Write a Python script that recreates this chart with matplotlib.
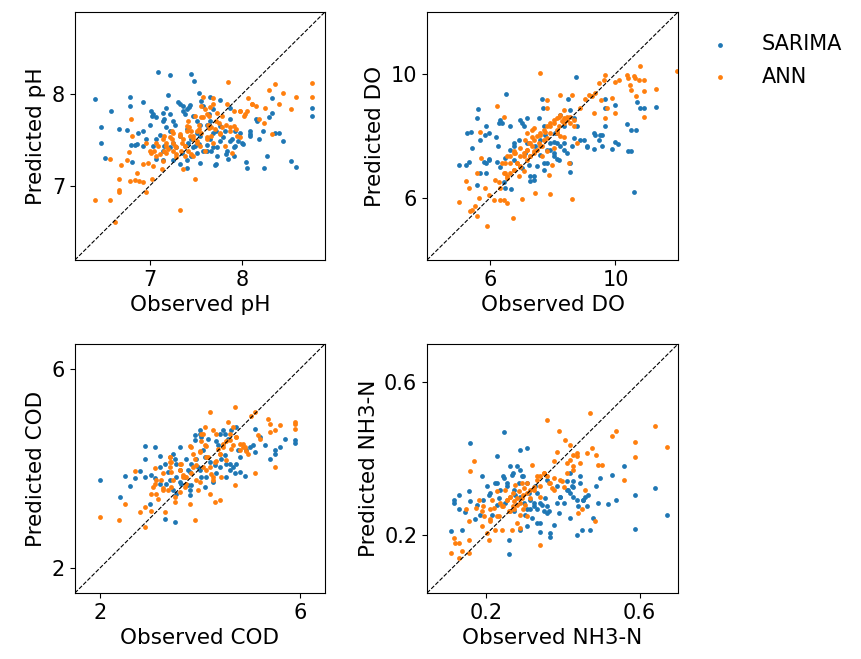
import matplotlib
matplotlib.use('Agg')
from matplotlib import pyplot as plt

# pH
ph_sarima_obs = [6.41, 7.09, 7.22, 7.45, 7.48, 6.47, 6.47, 6.52, 6.58, 6.67, 6.79, 6.79, 6.93, 6.76, 6.80,
                 6.84, 6.87, 6.93, 6.81, 7.02, 7.03, 7.07, 7.15, 7.18, 7.20, 7.16, 7.25, 7.31, 7.36, 7.40,
                 7.38, 7.44, 7.47, 7.53, 7.56, 7.65, 7.76, 7.87, 7.07, 7.11, 7.16, 7.22, 7.25, 7.33, 7.29,
                 7.35, 7.40, 7.33, 7.40, 7.45, 7.49, 7.55, 7.55, 7.58, 7.62, 7.65, 7.69, 7.73, 7.73, 7.71,
                 7.76, 7.82, 7.84, 7.85, 7.89, 7.91, 7.93, 7.96, 8.00, 8.04, 8.06, 8.09, 8.09, 8.15, 8.18,
                 8.24, 8.27, 8.29, 8.33, 8.33, 8.36, 8.40, 8.45, 8.53, 8.59, 8.76, 8.76, 7.58, 7.64, 7.69,
                 7.62, 7.51, 7.45, 7.55, 7.27, 7.22, 7.15, 7.07, 6.96, 7.04, 7.93, 7.98, 7.76, 7.87, 7.42,
                 7.51, 7.67,
                 7.04, 7.00, 7.15, 7.18, 6.93, 6.86, 7.33, 7.36, 7.43, 7.51, 7.65, 7.72, 7.80, 7.87, 7.91,
                 7.83, 7.69, 7.62, 7.54, 7.47, 7.40, 7.25, 7.15, 7.72, 8.01, 8.09, 8.16, 8.23, 7.22]
ph_sarima_pred = [7.95, 8.24, 8.21, 8.22, 8.15, 7.64, 7.47, 7.30, 7.82, 7.62, 7.97, 7.87, 7.92, 7.61, 7.45,
                  7.45, 7.58, 7.44, 7.26, 7.82, 7.76, 7.75, 7.80, 7.85, 7.99, 7.73, 7.71, 7.92, 7.87, 7.84,
                  7.78, 7.88, 7.76, 8.02, 7.93, 7.97, 7.94, 7.85, 7.51, 7.56, 7.44, 7.60, 7.47, 7.55, 7.42,
                  7.36, 7.20, 7.24, 7.62, 7.51, 7.44, 7.55, 7.67, 7.38, 7.45, 7.51, 7.58, 7.42, 7.33, 7.23,
                  7.49, 7.60, 7.38, 7.29, 7.51, 7.33, 7.44, 7.49, 7.47, 7.26, 7.20, 7.55, 7.60, 7.73, 7.51,
                  7.20, 7.33, 7.75, 7.80, 7.96, 7.58, 7.58, 7.49, 7.27, 7.21, 7.85, 7.76, 7.87, 7.78, 7.84,
                  7.67, 7.36, 7.33, 7.25, 7.67, 7.42, 7.38, 7.29, 7.51, 7.44, 7.60, 7.58, 7.65, 7.73, 7.47,
                  7.58, 7.38,
                  7.78, 7.67, 7.71, 7.64, 7.60, 7.46, 7.89, 7.82, 7.86, 7.71, 7.71, 7.60, 7.53, 7.49, 7.42,
                  7.35, 7.42, 7.38, 7.46, 7.42, 7.28, 7.28, 7.28, 7.24, 7.46, 7.57, 7.71, 7.60, 7.78]
ph_ann_obs = [6.41, 6.57, 6.62, 6.57, 6.67, 6.67, 6.67, 6.69, 6.75, 6.78, 6.80, 6.81, 6.79, 6.84, 6.86,
              6.88, 6.93, 6.93, 6.96, 6.96, 6.98, 7.03, 7.02, 7.05, 7.09, 7.13, 7.15, 7.16, 7.18, 7.20,
              7.24, 7.25, 7.27, 7.29, 7.35, 7.33, 7.36, 7.38, 7.42, 7.44, 7.47, 7.49, 7.51, 7.53, 7.56,
              7.56, 7.58, 7.60, 7.64, 7.67, 7.71, 7.75, 7.78, 7.84, 7.85, 7.87, 7.89, 7.91, 7.98, 8.02,
              8.05, 8.07, 8.11, 8.15, 8.18, 8.24, 8.25, 8.29, 8.33, 8.36, 8.40, 8.45, 8.53, 8.59, 8.76,
              8.76, 7.33, 7.40, 7.45, 7.55, 7.62, 7.69, 7.76, 7.82, 7.91, 7.95, 7.18, 7.25, 7.07, 7.04,
              7.64, 7.73, 7.60, 7.38, 7.47,
              7.22, 7.25, 7.18, 7.29, 7.33, 7.36, 7.40, 7.43, 7.47, 7.51, 7.54, 7.58, 7.62, 7.65, 7.69,
              7.56, 7.62, 7.67, 7.72, 7.78, 7.83, 7.87, 7.94, 7.98, 7.16, 7.11, 7.07, 7.00, 7.29, 7.34,
              7.24, 7.42, 7.49, 7.15, 7.38, 7.45, 7.51, 7.63, 7.76, 7.98, 8.03, 8.11, 7.69]
ph_ann_pred = [6.85, 6.85, 6.60, 7.29, 7.07, 6.96, 6.93, 7.23, 7.28, 7.37, 7.73, 7.54, 7.05, 7.06, 7.14,
               7.05, 7.04, 7.24, 7.47, 6.93, 7.25, 7.07, 7.36, 7.38, 7.44, 7.18, 7.27, 7.55, 7.47, 7.40,
               7.51, 7.38, 7.44, 7.31, 7.47, 6.74, 7.18, 7.33, 7.38, 7.55, 7.51, 7.07, 7.47, 7.62, 7.75,
               7.87, 7.97, 7.84, 7.63, 7.55, 7.62, 7.69, 7.64, 7.89, 8.13, 7.60, 7.36, 7.82, 7.82, 7.76,
               7.82, 7.96, 7.89, 7.87, 7.73, 7.69, 7.85, 8.05, 7.57, 8.11, 7.89, 8.02, 7.84, 7.97, 8.12,
               7.97, 7.55, 7.65, 7.60, 7.44, 7.51, 7.47, 7.58, 7.44, 7.65, 7.55, 7.36, 7.58, 7.33, 7.22,
               7.76, 7.80, 7.38, 7.44, 7.33,
               7.53, 7.47, 7.44, 7.42, 7.57, 7.51, 7.60, 7.64, 7.55, 7.49, 7.67, 7.75, 7.78, 7.86, 7.89,
               7.58, 7.53, 7.64, 7.71, 7.76, 7.67, 7.64, 7.62, 7.53, 7.38, 7.35, 7.47, 7.38, 7.35, 7.38,
               7.60, 7.71, 7.76, 7.51, 7.44, 7.35, 7.60, 7.67, 7.57, 7.82, 7.78, 7.89, 7.96]

# DO
do_sarima_obs = [5.01, 5.23, 5.33, 5.27, 5.38, 5.59, 5.61, 5.68, 5.41, 5.57, 5.66, 5.82, 5.81, 5.87, 5.95,
                 6.18, 6.25, 6.32, 6.37, 6.51, 6.43, 6.46, 6.62, 6.66, 6.48, 6.64, 6.75, 6.91, 7.01, 7.17,
                 7.17, 7.12, 7.23, 7.28, 7.39, 7.55, 7.65, 7.69, 7.73, 7.60, 7.71, 7.81, 7.92, 8.03, 8.19,
                 8.24, 8.35, 8.47, 8.56, 8.56, 8.61, 8.67, 8.75, 8.77, 8.99, 9.09, 9.31, 9.36, 9.47, 9.57,
                 9.57, 9.68, 9.68, 9.68, 9.89, 10.0, 10.0, 10.07, 10.37, 10.39, 10.50, 10.50, 10.59, 10.67,
                 10.69, 10.80, 10.91, 11.28, 8.03, 8.13, 8.24, 7.44, 7.60, 7.76, 6.75, 7.01, 6.21, 6.32,
                 8.08, 8.67, 8.35,
                 5.85, 5.96, 6.28, 6.96, 7.07, 6.75, 5.96, 5.85, 7.92, 8.03, 8.13, 8.35, 8.45, 8.56, 7.81,
                 7.71, 7.49, 7.28, 7.39, 9.09, 9.31, 9.52, 8.88, 8.13]
do_sarima_pred = [7.06, 7.06, 7.16, 8.08, 8.11, 8.57, 8.86, 7.87, 7.60, 6.41, 6.79, 8.03, 7.16, 6.79, 7.21,
                  7.95, 7.65, 8.51, 8.40, 9.35, 6.49, 6.30, 8.32, 6.27, 7.27, 7.54, 7.22, 7.87, 8.40, 8.57,
                  7.76, 7.43, 7.06, 6.52, 6.68, 8.57, 9.18, 8.89, 8.32, 7.38, 7.11, 7.54, 7.76, 7.43, 7.22,
                  8.67, 8.30, 9.18, 8.84, 6.84, 7.65, 7.92, 9.91, 8.30, 7.87, 7.62, 7.57, 8.03, 7.87, 7.65,
                  8.03, 8.30, 9.18, 8.89, 7.57, 9.00, 7.78, 7.74, 8.38, 7.52, 7.49, 8.19, 6.19, 8.17,
                  9.08, 8.89, 8.89, 8.92, 7.81, 8.08, 7.65, 7.65, 7.87, 8.03, 7.65, 6.95, 7.16, 7.00,
                  8.08, 8.57, 7.54,
                  8.30, 8.09, 8.41, 8.52, 8.30, 7.76, 7.23, 7.12, 7.55, 7.33, 7.23, 7.76, 7.44, 7.12, 7.12,
                  6.90, 7.01, 6.69, 6.58, 7.66, 8.09, 8.03, 7.87, 7.76]
do_ann_obs = [5.01, 5.23, 5.31, 5.36, 5.41, 5.50, 5.57, 5.59, 5.63, 5.66, 5.70, 5.84, 5.89, 5.95, 6.13,
              6.21, 6.27, 6.30, 6.43, 6.53, 6.43, 6.46, 6.53, 6.64, 6.73, 6.75, 6.80, 6.91, 6.96, 7.01,
              7.07, 7.17, 7.23, 7.33, 7.39, 7.44, 7.49, 7.60, 7.65, 7.71, 7.81, 7.81, 7.87, 7.90, 7.97,
              8.03, 8.13, 8.19, 8.24, 8.29, 8.35, 8.45, 8.51, 8.61, 8.61, 8.67, 8.77, 8.88, 9.04, 9.15,
              9.25, 9.31, 9.36, 9.47, 9.54, 9.62, 9.68, 9.73, 9.68, 9.89, 10.0, 10.0, 10.11, 10.37, 10.39,
              10.48, 10.50, 10.59, 10.64, 10.67, 10.75, 10.80, 10.91, 10.91, 10.91, 11.28, 11.97, 7.17,
              7.28, 7.39, 7.55, 7.60, 7.76, 7.92, 8.03, 8.19, 8.35, 8.56, 6.85, 6.96, 6.64, 6.53, 6.32,
              6.16, 6.37, 6.75, 7.12, 7.33, 7.65, 7.81,
              6.53, 6.75, 6.85, 6.96, 7.07, 7.17, 7.28, 7.39, 7.49, 7.60, 7.71, 7.81, 7.92, 8.03, 8.13,
              8.24, 8.35, 8.45, 8.56, 6.64, 6.75, 7.28, 7.39, 7.60, 6.96, 7.07, 6.43, 6.48, 7.81, 7.92,
              8.13, 7.17, 7.33, 8.24, 8.35, 8.67]
do_ann_pred = [5.87, 6.52, 6.30, 5.55, 5.60, 5.73, 5.41, 6.79, 5.98, 8.13, 7.27, 6.30, 5.08, 6.09, 5.92,
               8.95, 6.49, 5.92, 5.92, 5.82, 8.62, 6.79, 7.33, 7.11, 5.33, 6.89, 7.43, 6.68, 7.60, 5.95,
               7.33, 7.54, 7.76, 7.97, 8.24, 6.14, 7.54, 10.04, 7.65, 7.87, 9.16, 8.89, 6.73, 6.11, 7.06,
               7.60, 8.08, 8.62, 9.32, 8.46, 7.97, 8.62, 7.11, 5.95, 9.32, 8.51, 7.76, 8.89, 9.18, 9.32,
               9.27, 8.73, 9.37, 9.70, 9.16, 9.81, 9.97, 8.89, 8.57, 9.21, 8.73, 9.75, 9.81, 9.97, 9.86,
               9.64, 9.48, 9.94, 9.86, 9.27, 9.81, 10.24, 9.81, 9.43, 8.62, 9.50, 10.10, 7.22,
               7.33, 7.49, 7.76, 8.03, 8.13, 8.30, 8.40, 8.30, 8.57, 8.40, 7.11, 7.00, 6.79, 6.63, 6.30,
               6.57, 7.11, 7.49, 7.87, 7.65, 7.33, 7.49,
               6.69, 6.90, 7.12, 7.33, 7.44, 7.55, 7.76, 7.87, 7.98, 8.09, 8.19, 8.30, 8.41, 8.52, 8.57,
               8.68, 8.41, 8.52, 8.62, 7.33, 7.44, 7.33, 7.44, 7.66, 7.01, 6.85, 6.80, 7.12, 7.93, 8.09,
               8.19, 8.09, 8.19, 7.98, 8.84, 8.30]

# COD
cod_sarima_obs = [2.00, 2.40, 2.50, 2.60, 2.70, 2.80, 2.90, 2.90, 2.90, 3.00, 3.03, 3.10, 3.10, 3.20, 3.20,
                  3.30, 3.30, 3.37, 3.40, 3.47, 3.50, 3.60, 3.60, 3.63, 3.70, 3.77, 3.80, 3.83, 3.90, 3.90,
                  3.93, 3.97, 4.00, 4.03, 4.07, 4.10, 4.17, 4.20, 4.27, 4.30, 4.37, 4.40, 4.47, 4.50, 4.53,
                  4.57, 4.60, 4.63, 4.70, 4.73, 4.77, 4.80, 4.90, 4.93, 5.00, 5.10, 5.10, 5.20, 5.30, 5.40,
                  5.50, 5.50, 5.60, 5.70, 5.90, 5.90, 3.73, 4.00, 4.13, 4.33, 4.43, 3.83, 3.53, 3.60, 5.07,
                  3.47, 3.50, 3.53, 3.80, 4.00, 4.03, 4.10, 4.33, 4.40, 4.50, 4.53, 4.60, 4.67, 4.73, 4.80,
                  3.77, 3.80, 3.53, 3.33, 3.20]
cod_sarima_pred = [3.77, 3.43, 3.85, 3.65, 3.81, 3.94, 4.45, 4.20, 3.83, 3.29, 3.86, 4.43, 3.80, 4.25, 3.69,
                   2.99, 4.10, 3.93, 3.76, 3.56, 2.93, 4.43, 3.96, 3.69, 3.83, 3.96, 3.46, 3.66, 4.67, 4.57,
                   4.20, 4.03, 4.77, 3.83, 4.37, 3.63, 4.60, 4.13, 3.73, 4.06, 4.47, 4.03, 4.77, 4.27, 3.83,
                   4.60, 4.10, 4.77, 3.90, 4.84, 4.37, 3.93, 3.85, 4.37, 4.43, 4.80, 4.33, 4.63, 4.47, 4.20,
                   4.30, 4.37, 4.43, 4.60, 4.57, 4.52, 4.20, 3.96, 3.83, 3.90, 4.20, 4.10, 4.10, 3.73, 4.47,
                   4.30, 4.20, 3.82, 3.93, 4.70, 4.63, 4.23, 4.56, 4.70, 4.70, 4.09, 3.96, 4.03, 4.09, 4.23,
                   3.66, 3.56, 3.49, 3.69, 4.03]
cod_ann_obs = [2.00, 2.39, 2.50, 2.70, 2.80, 2.90, 2.91, 3.03, 3.10, 3.10, 3.13, 3.17, 3.27, 3.30, 3.37,
               3.40, 3.43, 3.47, 3.50, 3.50, 3.60, 3.63, 3.67, 3.70, 3.80, 3.80, 3.83, 3.90, 3.93, 3.97,
               4.00, 4.03, 4.07, 4.10, 4.13, 4.20, 4.20, 4.27, 4.30, 4.30, 4.33, 4.37, 4.40, 4.43, 4.47,
               4.57, 4.60, 4.63, 4.70, 4.70, 4.73, 4.80, 4.87, 4.90, 4.97, 5.03, 5.10, 5.10, 5.17, 5.20,
               5.37, 5.40, 5.40, 5.50, 5.50, 5.60, 5.90, 5.90, 5.90, 3.73, 3.87, 4.00, 4.13, 4.27, 4.40,
               4.53, 4.67, 3.60, 3.43, 3.27, 3.03,
               3.40, 3.40, 3.40, 3.43, 3.60, 3.60, 3.67, 3.73, 3.83, 3.87, 3.90, 3.93, 4.00, 4.03, 4.07,
               4.10, 4.13, 4.17, 4.20, 4.23, 4.27, 4.33, 4.40, 4.47, 4.53, 4.60, 4.67, 4.73, 4.80, 4.87,
               4.93, 3.23, 3.27, 3.13, 3.07]
cod_ann_pred = [3.02, 2.97, 3.28, 3.94, 3.12, 3.22, 2.82, 3.15, 4.00, 3.69, 3.49, 3.39, 3.90, 3.12, 3.57,
                4.23, 4.13, 3.76, 3.43, 3.32, 3.96, 4.10, 3.86, 3.63, 4.45, 3.29, 3.90, 2.96, 3.76, 3.56,
                4.33, 4.70, 4.03, 4.47, 4.23, 3.49, 5.14, 4.77, 4.13, 3.32, 4.70, 4.40, 3.36, 3.83, 4.50,
                4.94, 4.57, 4.40, 5.23, 3.66, 4.63, 4.37, 4.50, 4.43, 4.30, 5.05, 5.14, 3.90, 4.67, 4.60,
                5.00, 4.89, 4.74, 4.77, 4.03, 4.87, 4.94, 4.89, 4.79, 3.83, 4.03, 3.73, 3.96, 3.83, 4.30,
                4.17, 4.47, 3.53, 3.63, 3.60, 3.49,
                4.23, 4.13, 4.03, 3.93, 4.09, 3.96, 3.82, 3.69, 4.43, 4.30, 4.20, 4.06, 4.36, 4.56, 4.70,
                4.83, 4.46, 4.23, 4.03, 3.89, 3.76, 4.16, 4.30, 4.43, 4.56, 4.70, 4.83, 4.63, 4.50, 4.43,
                4.36, 3.76, 3.56, 3.76, 3.62]

# NH3-N
nh3_sarima_obs = [0.109, 0.116, 0.118, 0.129, 0.129, 0.138, 0.146, 0.157, 0.159, 0.159, 0.172, 0.177, 0.185,
                  0.190, 0.203, 0.207, 0.216, 0.224, 0.229, 0.233, 0.237, 0.246, 0.246, 0.250, 0.255, 0.259,
                  0.259, 0.263, 0.268, 0.272, 0.276, 0.281, 0.285, 0.289, 0.289, 0.294, 0.298, 0.302, 0.307,
                  0.311, 0.315, 0.320, 0.324, 0.328, 0.333, 0.340, 0.341, 0.346, 0.354, 0.363, 0.367, 0.367,
                  0.376, 0.389, 0.393, 0.402, 0.411, 0.415, 0.420, 0.424, 0.428, 0.437, 0.439, 0.446, 0.450,
                  0.454, 0.459, 0.467, 0.470, 0.480, 0.487, 0.493, 0.496, 0.519, 0.528, 0.539, 0.560, 0.589,
                  0.589, 0.641, 0.671, 0.420, 0.428, 0.384, 0.359, 0.289, 0.272, 0.229, 0.350, 0.307,
                  0.228, 0.245, 0.254, 0.271, 0.289, 0.297, 0.306, 0.315, 0.324, 0.332, 0.341, 0.358, 0.358,
                  0.384, 0.393, 0.410, 0.419, 0.428, 0.445, 0.454, 0.463, 0.437, 0.210, 0.193, 0.332, 0.306]
nh3_sarima_pred = [0.209, 0.292, 0.283, 0.305, 0.266, 0.213, 0.259, 0.314, 0.440, 0.287, 0.241, 0.279, 0.252,
                   0.353, 0.327, 0.305, 0.252, 0.335, 0.407, 0.296, 0.318, 0.468, 0.348, 0.283, 0.327, 0.185,
                   0.150, 0.379, 0.357, 0.261, 0.305, 0.379, 0.335, 0.423, 0.213, 0.353, 0.283, 0.252, 0.427,
                   0.309, 0.266, 0.244, 0.283, 0.327, 0.309, 0.231, 0.206, 0.279, 0.296, 0.261, 0.204, 0.194,
                   0.226, 0.257, 0.300, 0.283, 0.340, 0.318, 0.244, 0.327, 0.300, 0.200, 0.274, 0.353, 0.213,
                   0.292, 0.300, 0.305, 0.213, 0.244, 0.327, 0.283, 0.348, 0.281, 0.357, 0.290, 0.381, 0.305,
                   0.215, 0.322, 0.252, 0.361, 0.340, 0.327, 0.344, 0.300, 0.318, 0.279, 0.261, 0.266,
                   0.335, 0.353, 0.335, 0.361, 0.370, 0.353, 0.335, 0.292, 0.274, 0.266, 0.283, 0.274, 0.257,
                   0.283, 0.300, 0.318, 0.309, 0.326, 0.335, 0.292, 0.274, 0.292, 0.309, 0.291, 0.231, 0.222]
nh3_ann_obs = [0.109, 0.117, 0.120, 0.129, 0.129, 0.138, 0.149, 0.155, 0.155, 0.157, 0.159, 0.168, 0.175,
               0.181, 0.190, 0.190, 0.194, 0.203, 0.209, 0.211, 0.216, 0.220, 0.224, 0.229, 0.233, 0.242,
               0.242, 0.250, 0.255, 0.259, 0.263, 0.268, 0.272, 0.276, 0.281, 0.285, 0.289, 0.294, 0.298,
               0.302, 0.307, 0.314, 0.320, 0.324, 0.333, 0.340, 0.341, 0.350, 0.359, 0.363, 0.372, 0.376,
               0.384, 0.389, 0.398, 0.406, 0.411, 0.420, 0.428, 0.437, 0.441, 0.446, 0.450, 0.459, 0.463,
               0.470, 0.476, 0.485, 0.487, 0.493, 0.502, 0.528, 0.539, 0.560, 0.589, 0.589, 0.641, 0.671,
               0.359, 0.294, 0.272, 0.237, 0.307, 0.341, 0.376, 0.428,
               0.245, 0.254, 0.263, 0.271, 0.280, 0.289, 0.297, 0.271, 0.263, 0.297, 0.306, 0.315, 0.324,
               0.332, 0.341, 0.350, 0.367, 0.376, 0.393, 0.402, 0.410, 0.419, 0.428, 0.437, 0.210, 0.193,
               0.228, 0.210, 0.280, 0.289]
nh3_ann_pred = [0.152, 0.191, 0.178, 0.178, 0.139, 0.156, 0.266, 0.235, 0.187, 0.152, 0.366, 0.392, 0.270,
                0.292, 0.222, 0.261, 0.248, 0.204, 0.187, 0.235, 0.292, 0.270, 0.213, 0.314, 0.248, 0.213,
                0.274, 0.318, 0.292, 0.261, 0.300, 0.213, 0.287, 0.331, 0.279, 0.314, 0.252, 0.296, 0.322,
                0.279, 0.335, 0.296, 0.383, 0.318, 0.353, 0.174, 0.300, 0.361, 0.501, 0.335, 0.322, 0.392,
                0.418, 0.471, 0.340, 0.449, 0.388, 0.436, 0.410, 0.414, 0.257, 0.388, 0.266, 0.318, 0.414,
                0.519, 0.427, 0.235, 0.410, 0.383, 0.383, 0.459, 0.471, 0.342, 0.444, 0.403, 0.484, 0.431,
                0.353, 0.335, 0.266, 0.283, 0.309, 0.327, 0.348, 0.370,
                0.274, 0.291, 0.300, 0.309, 0.296, 0.283, 0.305, 0.274, 0.261, 0.266, 0.248, 0.318, 0.326,
                0.344, 0.353, 0.361, 0.335, 0.318, 0.344, 0.326, 0.361, 0.396, 0.379, 0.405, 0.266, 0.274,
                0.248, 0.240, 0.231, 0.218]

panels = [
    ('pH', ph_sarima_obs, ph_sarima_pred, ph_ann_obs, ph_ann_pred, (6.19, 8.90), [7, 8]),
    ('DO', do_sarima_obs, do_sarima_pred, do_ann_obs, do_ann_pred, (3.98, 12.0), [6, 10]),
    ('COD', cod_sarima_obs, cod_sarima_pred, cod_ann_obs, cod_ann_pred, (1.50, 6.50), [2, 6]),
    ('NH3-N', nh3_sarima_obs, nh3_sarima_pred, nh3_ann_obs, nh3_ann_pred, (0.047, 0.700), [0.2, 0.6]),
]

positions = [
    [0.087, 0.6055, 0.2904, 0.3763],
    [0.496, 0.6055, 0.2915, 0.3763],
    [0.087, 0.1002, 0.2904, 0.3778],
    [0.496, 0.1002, 0.2915, 0.3778],
]

fig = plt.figure(figsize=(8.61, 6.59), dpi=100)
for pos, (name, s_obs, s_pred, a_obs, a_pred, lims, ticks) in zip(positions, panels):
    ax = fig.add_axes(pos)
    ax.scatter(s_obs, s_pred, s=12, color='#1f77b4', linewidths=0, label='SARIMA')
    ax.scatter(a_obs, a_pred, s=12, color='#ff7f0e', linewidths=0, label='ANN')
    ax.plot(lims, lims, 'k--', lw=0.8)
    ax.set_xlim(lims)
    ax.set_ylim(lims)
    ax.set_xticks(ticks)
    ax.set_yticks(ticks)
    ax.set_xticklabels([str(t) for t in ticks])
    ax.set_yticklabels([str(t) for t in ticks])
    ax.tick_params(labelsize=15)
    ax.set_xlabel('Observed ' + name, fontsize=15.5)
    ax.set_ylabel('Predicted ' + name, fontsize=15.5)
    if name == 'DO':
        ax.legend(loc='upper left', bbox_to_anchor=(1.01, 0.985), frameon=False,
                  fontsize=15, handletextpad=1.0, labelspacing=0.6)

fig.savefig('out.png', dpi=100)
